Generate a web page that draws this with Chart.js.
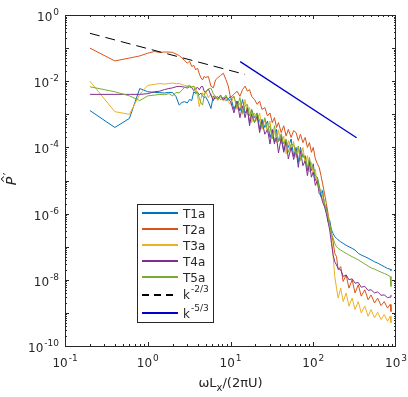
<!DOCTYPE html>
<html>
<head>
<meta charset="utf-8">
<script src="https://cdn.jsdelivr.net/npm/chart.js@4.4.0/dist/chart.umd.min.js"></script>
<style>
  html, body { margin: 0; padding: 0; background: #fff; }
  canvas { display: block; }
</style>
</head>
<body>
<canvas id="spectra" width="408" height="397"></canvas>
<script>
// frequency  wLx/(2piU)
const freq = [
  0.2, 0.4, 0.6, 0.8, 1.0, 1.2, 1.4, 1.6, 1.8, 2.0,
  2.2, 2.4, 2.6, 2.8, 3.0, 3.2, 3.4, 3.6, 3.8, 4.0,
  4.2, 4.4, 4.6, 4.8, 5.0, 5.4, 5.8, 6.2, 6.6, 7.0,
  7.6, 8.2, 8.8, 9.4, 10, 11, 12, 13, 14, 15,
  16, 17, 18, 19.5, 21, 22.5, 24, 26, 28, 30,
  32, 34, 36, 38, 41, 44, 47, 50, 54, 58,
  62, 66, 70, 75, 80, 85, 90, 95, 100, 106,
  112, 118, 124, 130, 137, 144, 151, 158, 166, 174,
  182, 191, 200, 215, 230, 250, 270, 295, 320, 350,
  380, 420, 460, 500, 550, 600, 660, 720, 790, 850,
  870
];

const t1a = [
  1.3e-3, 4e-4, 7.5e-4, 6e-3, 4.8e-3, 4.6e-3, 4.5e-3, 4.4e-3, 4.6e-3, 4.5e-3,
  3.4e-3, 1.9e-3, 2.3e-3, 2.4e-3, 2.2e-3, 2.8e-3, 2.6e-3, 4.8e-3, 4.2e-3, 4.6e-3,
  3.9e-3, 4.4e-3, 3.5e-3, 3.2e-3, 3.4e-3, 2.4e-3, 1.5e-3, 3.6e-3, 3.0e-3, 3.4e-3,
  2.8e-3, 3.2e-3, 2.6e-3, 2.9e-3, 3.5e-3, 1.4e-3, 2.5e-3, 1.26e-3, 2.8e-3, 1.1e-3,
  1.4e-3, 5.6e-4, 1.4e-3, 7.9e-4, 1.1e-3, 3.5e-4, 7.1e-4, 4.0e-4, 6.3e-4, 2.0e-4,
  3.2e-4, 1.26e-4, 3.5e-4, 1.5e-4, 2.3e-4, 7.9e-5, 1.6e-4, 1.0e-4, 1.8e-4, 5.4e-5,
  1.0e-4, 3.5e-5, 1.0e-4, 5.0e-5, 5.6e-5, 2.0e-5, 4.0e-5, 2.0e-5, 3.2e-5, 1.0e-5,
  1.26e-5, 7.1e-6, 3.2e-6, 5.0e-6, 1.6e-6, 1.6e-6, 5.6e-7, 6.3e-7, 3.2e-7, 2.5e-7,
  2.0e-7, 1.8e-7, 1.6e-7, 1.4e-7, 1.26e-7, 1.1e-7, 1.0e-7, 8.9e-8, 7.9e-8, 6.3e-8,
  5.6e-8, 5.0e-8, 4.5e-8, 4.0e-8, 3.5e-8, 3.2e-8, 2.8e-8, 2.5e-8, 2.2e-8, 2.1e-8,
  1.9e-8
];

const t2a = [
  0.1, 0.041, 0.05, 0.058, 0.07, 0.079, 0.074, 0.076, 0.076, 0.074,
  0.066, 0.06, 0.049, 0.042, 0.035, 0.04, 0.028, 0.03, 0.022, 0.025,
  0.0166, 0.0126, 0.011, 0.014, 0.013, 0.0138, 7.1e-3, 6.3e-3, 0.011, 0.0126,
  0.015, 0.0174, 0.0112, 7.1e-3, 3.2e-3, 4.0e-3, 5.0e-3, 3.5e-3, 5.6e-3, 7.1e-3,
  5.0e-3, 5.6e-3, 3.5e-3, 2.8e-3, 2.0e-3, 2.5e-3, 1.4e-3, 1.6e-3, 8.9e-4, 1.1e-3,
  5.6e-4, 7.9e-4, 4.0e-4, 5.6e-4, 2.8e-4, 4.5e-4, 2.2e-4, 3.5e-4, 2.0e-4, 3.2e-4,
  2.8e-4, 1.6e-4, 2.5e-4, 1.4e-4, 2.0e-4, 1.0e-4, 1.4e-4, 7.1e-5, 1.0e-4, 4.5e-5,
  3.2e-5, 2.5e-5, 1.4e-5, 7.9e-6, 4.0e-6, 2.0e-6, 1.0e-6, 5.0e-7, 2.5e-7, 1.4e-7,
  6.3e-8, 5.0e-8, 2.0e-8, 2.5e-8, 8.9e-9, 1.4e-8, 5.6e-9, 1.0e-8, 4.0e-9, 7.1e-9,
  3.2e-9, 5.0e-9, 2.5e-9, 3.5e-9, 2.0e-9, 2.8e-9, 1.66e-9, 2.2e-9, 1.4e-9, 1.8e-9,
  1.1e-9
];

const t3a = [
  0.01, 1.2e-3, 1.0e-3, 4.0e-3, 7.5e-3, 8.0e-3, 8.5e-3, 8.2e-3, 8.5e-3, 8.8e-3,
  8.4e-3, 8.6e-3, 7.8e-3, 7.5e-3, 7.2e-3, 7.6e-3, 6.8e-3, 7.0e-3, 6.5e-3, 3.5e-3,
  1.7e-3, 3.0e-3, 4.5e-3, 3.8e-3, 5.0e-3, 3.2e-3, 4.2e-3, 2.8e-3, 3.6e-3, 2.6e-3,
  3.4e-3, 2.5e-3, 3.1e-3, 2.4e-3, 2.0e-3, 3.5e-3, 1.4e-3, 2.2e-3, 1.0e-3, 2.8e-3,
  1.0e-3, 1.6e-3, 5.6e-4, 1.1e-3, 6.3e-4, 1.1e-3, 3.5e-4, 7.1e-4, 2.8e-4, 6.3e-4,
  2.0e-4, 3.2e-4, 1.4e-4, 3.4e-4, 1.3e-4, 2.2e-4, 6.3e-5, 1.6e-4, 8.9e-5, 1.5e-4,
  5.0e-5, 8.9e-5, 4.5e-5, 1.0e-4, 3.2e-5, 5.6e-5, 1.8e-5, 3.5e-5, 1.6e-5, 2.2e-5,
  7.1e-6, 5.6e-6, 5.6e-6, 2.5e-6, 2.2e-6, 1.0e-6, 8.9e-7, 4.0e-7, 2.0e-7, 5.0e-8,
  1.26e-8, 5.6e-9, 2.8e-9, 5.6e-9, 2.2e-9, 4.0e-9, 1.6e-9, 2.8e-9, 1.26e-9, 2.2e-9,
  1.0e-9, 1.6e-9, 7.9e-10, 1.26e-9, 7.1e-10, 1.05e-9, 6.3e-10, 8.9e-10, 5.6e-10, 7.9e-10,
  5.0e-10
];

const t4a = [
  4e-3, 4e-3, 4e-3, 4e-3, 4.2e-3, 4.8e-3, 5.0e-3, 5.6e-3, 6.0e-3, 6.3e-3,
  6.8e-3, 7.0e-3, 6.8e-3, 6.6e-3, 6.2e-3, 6.8e-3, 6.4e-3, 5.2e-3, 6.0e-3, 6.5e-3,
  5.5e-3, 6.8e-3, 7.0e-3, 5.0e-3, 4.6e-3, 5.8e-3, 3.8e-3, 2.6e-3, 3.5e-3, 3.0e-3,
  3.8e-3, 2.7e-3, 3.4e-3, 2.8e-3, 2.5e-3, 1.1e-3, 2.5e-3, 7.9e-4, 1.8e-3, 7.9e-4,
  1.6e-3, 4.5e-4, 1.0e-3, 5.6e-4, 8.9e-4, 2.8e-4, 6.3e-4, 2.5e-4, 3.5e-4, 1.26e-4,
  3.5e-4, 1.4e-4, 2.0e-4, 6.8e-5, 1.9e-4, 7.1e-5, 1.6e-4, 4.5e-5, 1.0e-4, 4.3e-5,
  8.9e-5, 2.5e-5, 7.9e-5, 2.8e-5, 4.0e-5, 1.4e-5, 3.5e-5, 1.26e-5, 1.8e-5, 7.1e-6,
  1.0e-5, 4.0e-6, 3.5e-6, 2.2e-6, 1.6e-6, 1.0e-6, 5.6e-7, 3.2e-7, 1.26e-7, 5.6e-8,
  3.5e-8, 2.8e-8, 2.2e-8, 2.0e-8, 1.26e-8, 1.4e-8, 1.0e-8, 1.07e-8, 7.9e-9, 8.3e-9,
  6.0e-9, 6.3e-9, 4.8e-9, 5.0e-9, 4.0e-9, 4.3e-9, 3.4e-9, 3.5e-9, 2.9e-9, 3.0e-9,
  3.5e-9
];

const t5a = [
  6.8e-3, 4.8e-3, 3.6e-3, 2.6e-3, 3.6e-3, 3.8e-3, 4.0e-3, 3.9e-3, 4.2e-3, 3.6e-3,
  4.6e-3, 4.4e-3, 5.5e-3, 6.5e-3, 6.8e-3, 7.2e-3, 6.6e-3, 7.0e-3, 4.4e-3, 4.8e-3,
  3.0e-3, 2.2e-3, 1.9e-3, 3.6e-3, 4.8e-3, 5.8e-3, 6.2e-3, 4.2e-3, 3.4e-3, 2.8e-3,
  3.6e-3, 3.0e-3, 3.8e-3, 2.7e-3, 2.8e-3, 3.5e-3, 1.6e-3, 3.2e-3, 1.1e-3, 1.8e-3,
  2.0e-3, 8.9e-4, 1.4e-3, 5.6e-4, 1.1e-3, 6.3e-4, 4.0e-4, 7.9e-4, 3.2e-4, 4.5e-4,
  1.8e-4, 4.5e-4, 2.2e-4, 1.5e-4, 2.6e-4, 1.26e-4, 1.8e-4, 7.1e-5, 1.26e-4, 1.2e-4,
  6.3e-5, 1.1e-4, 4.0e-5, 6.3e-5, 4.5e-5, 2.5e-5, 5.0e-5, 2.2e-5, 2.5e-5, 1.4e-5,
  1.26e-5, 5.6e-6, 4.5e-6, 4.0e-6, 2.0e-6, 1.4e-6, 7.9e-7, 5.0e-7, 2.5e-7, 1.8e-7,
  1.26e-7, 1.0e-7, 8.9e-8, 7.9e-8, 7.1e-8, 6.3e-8, 5.6e-8, 5.0e-8, 4.5e-8, 4.0e-8,
  3.5e-8, 3.0e-8, 2.6e-8, 2.3e-8, 2.1e-8, 1.9e-8, 1.7e-8, 1.55e-8, 1.4e-8, 1.26e-8,
  6.3e-9
];

// reference slopes (end points)
const k23X = [0.2, 15];
const k23Y = [0.28, 0.016];
const k53X = [13.1, 334];
const k53Y = [0.039, 1.96e-4];

const seriesNames = ['T1a', 'T2a', 'T3a', 'T4a', 'T5a'];
const seriesColors = ['#0072BD', '#D95319', '#EDB120', '#7E2F8E', '#77AC30'];
const xTickExp = [-1, 0, 1, 2, 3];
const yTickExp = [0, -2, -4, -6, -8, -10];

const FONT = '"DejaVu Sans", "Liberation Sans", sans-serif';
const SLOPE_BLUE = '#0000C8';

function pairs(xs, ys) {
  return xs.map((v, i) => ({ x: v, y: ys[i] }));
}

// draws "10" with a raised exponent; align: 'right' or 'center'
function drawPow(ctx, exp, px, baseY, align) {
  const base = '10', sup = String(exp);
  ctx.font = '12px ' + FONT;
  const wb = ctx.measureText(base).width;
  ctx.font = '9px ' + FONT;
  const ws = ctx.measureText(sup).width;
  let x0 = align === 'right' ? px - wb - ws - 1 : px - (wb + ws + 1) / 2;
  ctx.textAlign = 'left';
  ctx.textBaseline = 'alphabetic';
  ctx.font = '12px ' + FONT;
  ctx.fillText(base, x0, baseY);
  ctx.font = '9px ' + FONT;
  ctx.fillText(sup, x0 + wb + 1, baseY - 6);
}

const matlabAxes = {
  id: 'matlabAxes',
  afterDraw(chart) {
    const { ctx, chartArea: a, scales: { x, y } } = chart;
    ctx.save();
    ctx.strokeStyle = '#262626';
    ctx.fillStyle = '#262626';
    ctx.lineWidth = 1;
    ctx.strokeRect(a.left + 0.5, a.top + 0.5, a.right - a.left - 1, a.bottom - a.top);

    // ticks, inward on all four sides
    ctx.beginPath();
    for (let e = -1; e < 3; e++) {
      for (let k = 1; k <= 9; k++) {
        const px = Math.round(x.getPixelForValue(k * Math.pow(10, e))) + 0.5;
        const len = k === 1 ? 4 : 2;
        ctx.moveTo(px, a.bottom); ctx.lineTo(px, a.bottom - len);
        ctx.moveTo(px, a.top); ctx.lineTo(px, a.top + len);
      }
    }
    for (let e = -10; e < 0; e++) {
      for (let k = 1; k <= 9; k++) {
        const py = Math.round(y.getPixelForValue(k * Math.pow(10, e))) + 0.5;
        const len = k === 1 ? 4 : 2;
        ctx.moveTo(a.left, py); ctx.lineTo(a.left + len, py);
        ctx.moveTo(a.right, py); ctx.lineTo(a.right - len, py);
      }
    }
    ctx.stroke();

    // tick labels
    xTickExp.forEach(e => {
      drawPow(ctx, e, x.getPixelForValue(Math.pow(10, e)), a.bottom + 21, 'center');
    });
    yTickExp.forEach(e => {
      drawPow(ctx, e, a.left - 6, y.getPixelForValue(Math.pow(10, e)) + 6, 'right');
    });

    // x axis title: wL_x/(2piU)
    const cx = (a.left + a.right) / 2;
    const by = 387;
    ctx.font = '13px ' + FONT;
    const p1 = '\u03C9L', p2 = '/(2\u03C0U)';
    const w1 = ctx.measureText(p1).width, w2 = ctx.measureText(p2).width;
    ctx.font = '10px ' + FONT;
    const ws = ctx.measureText('x').width;
    let tx = cx - (w1 + ws + w2) / 2;
    ctx.font = '13px ' + FONT;
    ctx.fillText(p1, tx, by);
    ctx.font = '10px ' + FONT;
    ctx.fillText('x', tx + w1, by + 4);
    ctx.font = '13px ' + FONT;
    ctx.fillText(p2, tx + w1 + ws, by);

    // y axis title: P hat prime, rotated
    ctx.save();
    ctx.translate(16, 181);
    ctx.rotate(-Math.PI / 2);
    ctx.textAlign = 'center';
    ctx.font = 'italic 14px ' + FONT;
    ctx.fillText('P', 0, 0);
    ctx.font = '10px ' + FONT;
    ctx.fillText('^', 2, -7);
    ctx.font = '12px ' + FONT;
    ctx.fillText('\u2032', 7, -4);
    ctx.restore();

    // legend
    const lx = 137.5, ly = 204.5, lw = 76, lh = 118;
    ctx.fillStyle = '#ffffff';
    ctx.fillRect(lx, ly, lw, lh);
    ctx.strokeStyle = '#262626';
    ctx.strokeRect(lx, ly, lw, lh);
    const rows = [213, 229, 245, 261, 277, 294, 313];
    const labels = seriesNames.concat(['k', 'k']);
    const sups = [null, null, null, null, null, '-2/3', '-5/3'];
    const colors = seriesColors.concat(['#000000', SLOPE_BLUE]);
    rows.forEach((ry, i) => {
      // 2px tall samples on even rows so the colour survives the photo
      const sy = ry - (ry % 2);
      ctx.fillStyle = colors[i];
      if (i === 5) {
        for (let sx = 142; sx < 175; sx += 12) ctx.fillRect(sx, sy, 7, 2);
      } else {
        ctx.fillRect(142, sy, 36, 2);
      }
      ctx.fillStyle = '#262626';
      ctx.textAlign = 'left';
      ctx.textBaseline = 'alphabetic';
      ctx.font = '12px ' + FONT;
      ctx.fillText(labels[i], 183, ry + 5);
      if (sups[i]) {
        const wk = ctx.measureText(labels[i]).width;
        ctx.font = '9px ' + FONT;
        ctx.fillText(sups[i], 183 + wk + 1, ry - 2);
      }
    });
    ctx.restore();
  }
};

const datasets = [t1a, t2a, t3a, t4a, t5a].map((vals, i) => ({
  label: seriesNames[i],
  data: pairs(freq, vals),
  borderColor: seriesColors[i],
  borderWidth: 1,
  pointRadius: 0,
  fill: false,
  order: 10 - i
}));
datasets.push({
  label: 'k^-2/3',
  data: pairs(k23X, k23Y),
  borderColor: '#000000',
  borderDash: [10, 6],
  borderWidth: 1,
  pointRadius: 0,
  order: 2
});
datasets.push({
  label: 'k^-5/3',
  data: pairs(k53X, k53Y),
  borderColor: SLOPE_BLUE,
  borderWidth: 1.3,
  pointRadius: 0,
  order: 1
});

new Chart(document.getElementById('spectra').getContext('2d'), {
  type: 'line',
  data: { datasets: datasets },
  options: {
    responsive: false,
    animation: false,
    devicePixelRatio: 1,
    layout: { padding: { left: 65, top: 15, right: 12, bottom: 51 } },
    elements: { line: { tension: 0 } },
    scales: {
      x: { type: 'logarithmic', min: 0.1, max: 1000, display: false },
      y: { type: 'logarithmic', min: 1e-10, max: 1, display: false }
    },
    plugins: { legend: { display: false }, tooltip: { enabled: false } }
  },
  plugins: [matlabAxes]
});
</script>
</body>
</html>
